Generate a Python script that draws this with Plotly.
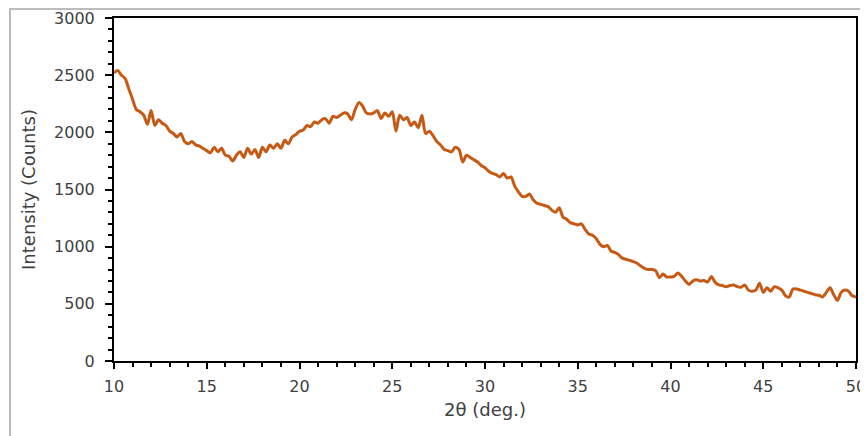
import plotly.graph_objects as go

two_theta = [round(10 + 0.2 * i, 1) for i in range(201)]
intensity = [
    2520, 2540, 2500, 2470, 2380, 2290, 2200, 2180, 2150, 2070,
    2190, 2060, 2110, 2080, 2060, 2010, 1990, 1960, 1990, 1920,
    1900, 1920, 1890, 1880, 1860, 1840, 1820, 1870, 1830, 1860,
    1800, 1790, 1750, 1800, 1830, 1780, 1860, 1810, 1850, 1780,
    1870, 1830, 1890, 1860, 1900, 1860, 1930, 1900, 1960, 1980,
    2010, 2020, 2060, 2050, 2090, 2080, 2110, 2120, 2080, 2140,
    2130, 2150, 2170, 2160, 2110, 2200, 2260, 2230, 2170, 2160,
    2170, 2190, 2120, 2170, 2140, 2180, 2010, 2150, 2110, 2130,
    2060, 2090, 2040, 2150, 1990, 2010, 1970, 1920, 1890, 1850,
    1840, 1830, 1870, 1850, 1740, 1800, 1780, 1760, 1740, 1710,
    1690, 1660, 1640, 1630, 1610, 1640, 1600, 1610, 1530, 1480,
    1440, 1440, 1460, 1410, 1380, 1370, 1360, 1350, 1320, 1300,
    1340, 1260, 1240, 1210, 1200, 1190, 1200, 1150, 1110, 1100,
    1070, 1020, 1000, 1010, 960, 950, 930, 900, 890, 880,
    870, 855, 830, 810, 800, 800, 790, 730, 760, 735,
    735, 740, 770, 740, 700, 670, 700, 710, 700, 705,
    690, 740, 690, 665, 660, 650, 660, 665, 650, 645,
    665, 620, 610, 620, 680, 600, 640, 610, 650, 640,
    620, 570, 560, 630, 630, 620, 610, 600, 590, 580,
    575, 560, 600, 640, 580, 530, 600, 620, 610, 570,
    560,
]

x_ticks = [10, 15, 20, 25, 30, 35, 40, 45, 50]
y_ticks = [0, 500, 1000, 1500, 2000, 2500, 3000]

FONT = "DejaVu Sans"
TXT = "#404040"

fig = go.Figure()
fig.add_trace(go.Scatter(
    x=two_theta, y=intensity, mode="lines",
    line=dict(color="#C65A14", width=3, shape="spline", smoothing=0.8),
    showlegend=False, hoverinfo="skip",
))

axis_common = dict(
    showgrid=False, zeroline=False, automargin=False,
    showline=True, linecolor="black", linewidth=2, mirror=True,
    ticks="outside", tickcolor="black", tickwidth=2,
    tickfont=dict(family=FONT, size=16, color=TXT),
)

fig.update_layout(
    width=860, height=428,
    margin=dict(l=106, r=12, t=10, b=75),
    paper_bgcolor="white", plot_bgcolor="white",
    xaxis=dict(
        range=[10, 50], tickvals=x_ticks, ticklen=6, ticklabelstandoff=4,
        minor=dict(dtick=1, ticks="outside", ticklen=4, tickcolor="black", tickwidth=1.5),
        title=dict(text="2θ (deg.)", font=dict(family=FONT, size=18, color=TXT), standoff=8),
        **axis_common,
    ),
    yaxis=dict(
        range=[0, 3000], tickvals=y_ticks, ticklen=7, ticklabelstandoff=7,
        minor=dict(dtick=100, ticks="outside", ticklen=4, tickcolor="black", tickwidth=1.5),
        title=dict(text="Intensity (Counts)", font=dict(family=FONT, size=18, color=TXT), standoff=14),
        **axis_common,
    ),
    shapes=[dict(
        type="rect", xref="paper", yref="paper",
        x0=-0.1402, x1=1.03, y0=-0.35, y1=1.0262,
        line=dict(color="#A6A6A6", width=1.5), layer="below",
    )],
)

fig.write_html("out.html")
